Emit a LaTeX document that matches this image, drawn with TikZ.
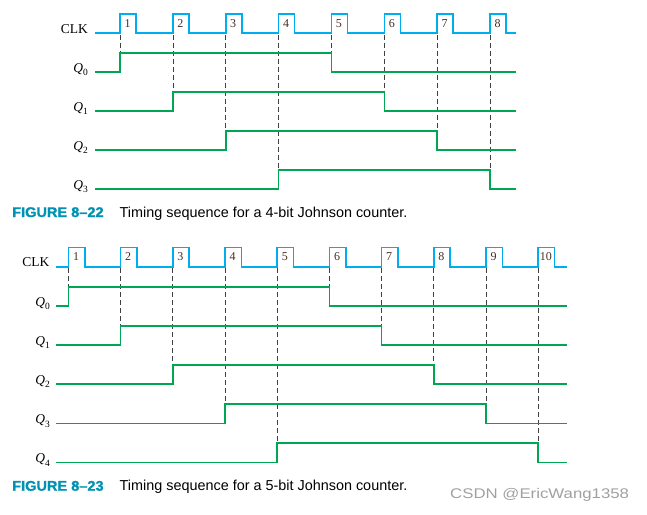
\documentclass[tikz,border=0pt]{standalone}
\usepackage{fontspec}
\setmainfont{Liberation Serif}
\setsansfont{Liberation Sans}
\newfontfamily\markfont[FakeStretch=1.2]{Liberation Sans}
\newfontfamily\figfont[FakeBold=1.2, FakeStretch=1.04]{Liberation Sans Bold}
\usetikzlibrary{positioning}
\definecolor{clkcyan}{RGB}{0,174,239}
\definecolor{qgreen}{RGB}{0,166,81}
\definecolor{figteal}{RGB}{0,146,178}
\definecolor{numbrown}{RGB}{70,45,35}
\definecolor{markgray}{RGB}{160,160,160}
\newcommand{\qname}[1]{\textit{Q}\raisebox{-0.28em}{\fontsize{9.5}{9.5}\selectfont #1}}
\tikzset{
    clkline/.style={clkcyan, line width=1.6pt},
    qline/.style={qgreen, line width=1.6pt},
    tickline/.style={black!75, line width=0.7pt, dash pattern=on 5pt off 3pt},
    pulsenum/.style={font=\fontsize{12}{12}\selectfont, text=numbrown, inner sep=0pt},
    siglabel/.style={font=\fontsize{13.5}{13.5}\selectfont, anchor=base east, inner sep=0pt},
    figlabel/.style={font=\figfont\fontsize{14}{14}\selectfont, text=figteal, anchor=base west, inner sep=0pt},
    captext/.style={font=\sffamily\fontsize{14.4}{14.4}\selectfont, anchor=base west, inner sep=0pt}
}

\begin{document}
\begin{tikzpicture}[x=1pt, y=-1pt]
\useasboundingbox (0,0) rectangle (647,514);

% 4-bit Johnson counter
\begin{scope}
    \node[siglabel] (tclk) at (88,33) {CLK};
    \draw[clkline] (95,33) \foreach \k in {1,...,8} {
        -- ({120+(\k-1)*52.86},33) -- ++(0,-19) -- ++(16,0) -- ++(0,19)
    } -- (516,33);
    \foreach \k in {1,...,8} {
        \node[pulsenum] (tn\k) at ({127.5+(\k-1)*52.86},23.5) {\k};
        \pgfmathtruncatemacro\r{mod(\k-1,4)}
        \draw[tickline] ({120+(\k-1)*52.86},34.5) -- ({120+(\k-1)*52.86},{53+39*\r});
    }

    % outputs Q0..Q3
    \foreach \i in {0,...,3} {
        \pgfmathsetmacro\up{120+\i*52.86}
        \pgfmathsetmacro\dn{120+(\i+4)*52.86}
        \pgfmathsetmacro\hi{53+39*\i}
        \draw[qline] (95,\hi+19) -- (\up,\hi+19) -- (\up,\hi) -- (\dn,\hi) -- (\dn,\hi+19) -- (516,\hi+19);
        \node[siglabel] (tq\i) at (88,\hi+19) {\qname{\i}};
    }

    \node[figlabel] (tfig) at (12,217) {FIGURE 8–22};
    \node[captext] (tcap) at (119.5,217) {Timing sequence for a 4-bit Johnson counter.};
\end{scope}

% 5-bit Johnson counter
\begin{scope}
    \node[siglabel] (bclk) at (49.5,266.7) {CLK};
    \draw[clkline] (56,266.7) \foreach \k in {1,...,10} {
        -- ({68.3+(\k-1)*52.2},266.7) -- ++(0,-19.4) -- ++(16.5,0) -- ++(0,19.4)
    } -- (567,266.7);
    \foreach \k in {1,...,10} {
        \node[pulsenum] (bn\k) at ({76+(\k-1)*52.2},257) {\k};
        \pgfmathtruncatemacro\r{mod(\k-1,5)}
        \draw[tickline] ({68.3+(\k-1)*52.2},268.2) -- ({68.3+(\k-1)*52.2},{286.7+39.1*\r});
    }

    % outputs Q0..Q4
    \foreach \i in {0,...,4} {
        \pgfmathsetmacro\up{68.3+\i*52.2}
        \pgfmathsetmacro\dn{68.3+(\i+5)*52.2}
        \pgfmathsetmacro\hi{286.7+39.1*\i}
        \draw[qline] (56,\hi+19.3) -- (\up,\hi+19.3) -- (\up,\hi) -- (\dn,\hi) -- (\dn,\hi+19.3) -- (567,\hi+19.3);
        \node[siglabel] (bq\i) at (50,\hi+19.3) {\qname{\i}};
    }

    \node[figlabel] (bfig) at (12,490.7) {FIGURE 8–23};
    \node[captext] (bcap) at (119.5,490.7) {Timing sequence for a 5-bit Johnson counter.};
\end{scope}

\node[font=\markfont\fontsize{14}{14}\selectfont, text=markgray, anchor=base west, inner sep=0pt] (mark) at (450,498) {CSDN @EricWang1358};
\end{tikzpicture}
\end{document}
